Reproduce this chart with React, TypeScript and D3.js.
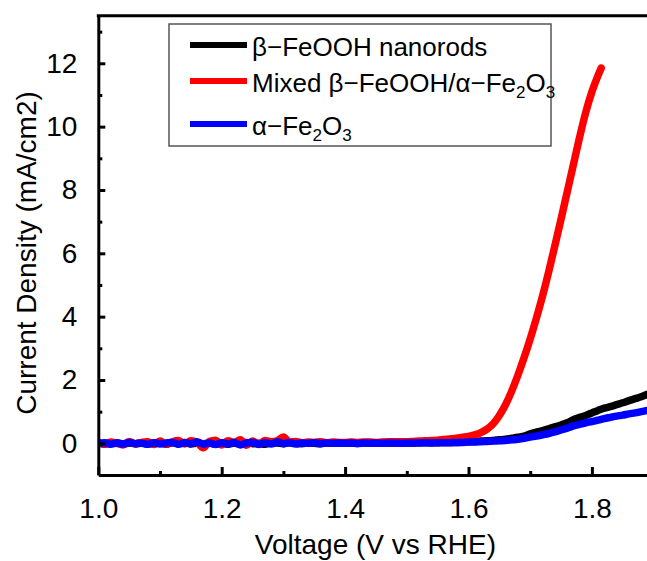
import { useEffect, useRef } from 'react';
import * as d3 from 'd3';

const [width, height] = [647, 561];
const margin = { left: 98.3, top: 15.8, right: 653.6, bottom: 475 };

const voltage = [
  1.00, 1.01, 1.02, 1.03, 1.04, 1.05, 1.06, 1.07, 1.08, 1.09,
  1.10, 1.11, 1.12, 1.13, 1.14, 1.15, 1.16, 1.17, 1.18, 1.19,
  1.20, 1.21, 1.22, 1.23, 1.24, 1.25, 1.26, 1.27, 1.28, 1.29,
  1.30, 1.31, 1.32, 1.33, 1.34, 1.35, 1.36, 1.37, 1.38, 1.39,
  1.40, 1.41, 1.42, 1.43, 1.44, 1.45, 1.46, 1.47, 1.48, 1.49,
  1.50, 1.51, 1.52, 1.53, 1.54, 1.55, 1.56, 1.57, 1.58, 1.59,
  1.60, 1.61, 1.62, 1.63, 1.64, 1.65, 1.66, 1.67, 1.68, 1.69,
  1.70, 1.71, 1.72, 1.73, 1.74, 1.75, 1.76, 1.77, 1.78, 1.79,
  1.80, 1.81, 1.82, 1.83, 1.84, 1.85, 1.86, 1.87, 1.88, 1.89,
];

// beta-FeOOH nanorods
const nanorods = [
  0.01, -0.02, 0.00, 0.02, -0.03, 0.01, -0.01, 0.02, -0.02, 0.00,
  0.01, -0.03, 0.02, -0.01, 0.03, -0.02, 0.00, -0.04, 0.01, -0.02,
  0.02, -0.03, 0.01, -0.02, 0.03, -0.01, 0.00, -0.03, 0.02, 0.01,
  -0.01, 0.02, 0.00, -0.01, 0.01, 0.00, -0.01, 0.01, 0.00, 0.01,
  0.00, 0.01, 0.00, 0.01, 0.01, 0.00, 0.01, 0.01, 0.01, 0.01,
  0.01, 0.01, 0.02, 0.02, 0.02, 0.02, 0.03, 0.03, 0.03, 0.04,
  0.05, 0.06, 0.07, 0.08, 0.09, 0.11, 0.13, 0.16, 0.19, 0.23,
  0.30, 0.35, 0.40, 0.46, 0.52, 0.58, 0.65, 0.75, 0.82, 0.88,
  0.96, 1.04, 1.11, 1.16, 1.22, 1.28, 1.35, 1.41, 1.47, 1.55,
];

// alpha-Fe2O3
const hematite = [
  0.00, 0.02, -0.03, 0.01, -0.02, 0.03, -0.01, 0.00, -0.03, 0.02,
  -0.02, 0.01, 0.03, -0.03, 0.02, -0.01, 0.04, -0.02, 0.01, -0.04,
  0.02, -0.02, 0.03, -0.05, 0.01, 0.03, -0.03, 0.02, -0.02, 0.04,
  -0.01, 0.02, -0.02, 0.01, 0.00, 0.02, -0.01, 0.01, 0.00, 0.01,
  0.00, 0.01, -0.01, 0.01, 0.00, 0.01, 0.00, 0.01, 0.01, 0.00,
  0.01, 0.01, 0.01, 0.02, 0.01, 0.02, 0.02, 0.02, 0.03, 0.03,
  0.04, 0.04, 0.05, 0.06, 0.07, 0.08, 0.09, 0.11, 0.13, 0.16,
  0.20, 0.23, 0.27, 0.31, 0.36, 0.42, 0.48, 0.55, 0.60, 0.65,
  0.69, 0.73, 0.78, 0.82, 0.86, 0.89, 0.93, 0.96, 1.00, 1.04,
];

// mixed phase, stops earlier
const mixedVoltage = [
  1.00, 1.01, 1.02, 1.03, 1.04, 1.05, 1.06, 1.07, 1.08, 1.09,
  1.10, 1.11, 1.12, 1.13, 1.14, 1.15, 1.16, 1.17, 1.18, 1.19,
  1.20, 1.21, 1.22, 1.23, 1.24, 1.25, 1.26, 1.27, 1.28, 1.29,
  1.30, 1.31, 1.32, 1.33, 1.34, 1.35, 1.36, 1.37, 1.38, 1.39,
  1.40, 1.41, 1.42, 1.43, 1.44, 1.45, 1.46, 1.47, 1.48, 1.49,
  1.50, 1.51, 1.52, 1.53, 1.54, 1.55, 1.56, 1.57, 1.58, 1.59,
  1.60, 1.61, 1.62, 1.63, 1.64, 1.65, 1.66, 1.67, 1.68, 1.69,
  1.70, 1.71, 1.72, 1.73, 1.74, 1.75, 1.76, 1.77, 1.78, 1.79,
  1.80, 1.81, 1.815,
];
const mixed = [
  0.02, -0.03, 0.04, 0.00, -0.05, 0.06, -0.02, 0.03, 0.05, -0.04,
  0.07, -0.03, 0.05, 0.09, -0.02, 0.08, 0.04, -0.14, 0.06, 0.10,
  -0.05, 0.08, 0.03, 0.11, -0.06, 0.07, -0.04, 0.09, 0.05, 0.08,
  0.20, 0.04, 0.06, 0.02, 0.04, 0.03, 0.05, 0.02, 0.04, 0.03,
  0.03, 0.04, 0.03, 0.04, 0.04, 0.03, 0.04, 0.05, 0.05, 0.05,
  0.05, 0.06, 0.07, 0.08, 0.09, 0.10, 0.12, 0.14, 0.16, 0.19,
  0.22, 0.27, 0.34, 0.45, 0.62, 0.88, 1.22, 1.65, 2.15, 2.70,
  3.30, 3.95, 4.65, 5.42, 6.24, 7.08, 7.94, 8.80, 9.66, 10.45,
  11.10, 11.62, 11.85,
];

const xMajor = [1.0, 1.2, 1.4, 1.6, 1.8];
const xMinor = [1.1, 1.3, 1.5, 1.7, 1.9];
const yMajor = [0, 2, 4, 6, 8, 10, 12];
const yMinor = [1, 3, 5, 7, 9, 11, 13];

const font = '"Liberation Sans", Arial, sans-serif';

function App() {
  const node = useRef<SVGSVGElement>(null);

  useEffect(() => {
    if (!node.current) return;
    const svg = d3.select(node.current);
    svg.selectAll('*').remove();

    const x = d3.scaleLinear().domain([1.0, 1.9]).range([margin.left, margin.right]);
    const y = d3.scaleLinear().domain([-1, 13.5]).range([margin.bottom, margin.top]);

    svg.append('clipPath').attr('id', 'plot-clip')
      .append('rect')
      .attr('x', margin.left).attr('y', margin.top)
      .attr('width', margin.right - margin.left).attr('height', margin.bottom - margin.top);

    const line = d3.line<[number, number]>()
      .x(d => x(d[0]))
      .y(d => y(d[1]))
      .curve(d3.curveMonotoneX);

    const series = [
      { v: voltage, i: nanorods, color: '#000000' },
      { v: mixedVoltage, i: mixed, color: '#ff0000' },
      { v: voltage, i: hematite, color: '#0000ff' },
    ];

    const plot = svg.append('g').attr('clip-path', 'url(#plot-clip)');
    series.forEach(s => {
      plot.append('path')
        .datum(s.v.map((v, k) => [v, s.i[k]] as [number, number]))
        .attr('fill', 'none')
        .attr('stroke', s.color)
        .attr('stroke-width', 7.5)
        .attr('stroke-linejoin', 'round')
        .attr('stroke-linecap', 'round')
        .attr('d', line);
    });

    // axes, ticks point inward
    const xAxisG = svg.append('g')
      .attr('transform', `translate(0,${margin.bottom})`)
      .call(d3.axisBottom(x).tickValues(xMajor).tickFormat(d3.format('.1f'))
        .tickSizeInner(-8).tickSizeOuter(0).tickPadding(23));
    svg.append('g')
      .attr('transform', `translate(0,${margin.bottom})`)
      .call(d3.axisBottom(x).tickValues(xMinor).tickFormat(() => '')
        .tickSizeInner(-4).tickSizeOuter(0))
      .select('.domain').remove();

    const yAxisG = svg.append('g')
      .attr('transform', `translate(${margin.left},0)`)
      .call(d3.axisLeft(y).tickValues(yMajor).tickFormat(d3.format('d'))
        .tickSizeInner(-7).tickSizeOuter(0).tickPadding(21));
    svg.append('g')
      .attr('transform', `translate(${margin.left},0)`)
      .call(d3.axisLeft(y).tickValues(yMinor).tickFormat(() => '')
        .tickSizeInner(-4).tickSizeOuter(0))
      .select('.domain').remove();

    svg.selectAll('.domain, .tick line').attr('stroke', '#000').attr('stroke-width', 3);
    [xAxisG, yAxisG].forEach(g => g.selectAll('text')
      .attr('font-family', font).attr('font-size', 28).attr('fill', '#000'));

    // frame top / right
    svg.append('line')
      .attr('x1', margin.left - 1.5).attr('x2', margin.right)
      .attr('y1', margin.top).attr('y2', margin.top)
      .attr('stroke', '#000').attr('stroke-width', 3);
    svg.append('line')
      .attr('x1', margin.right).attr('x2', margin.right)
      .attr('y1', margin.top).attr('y2', margin.bottom)
      .attr('stroke', '#000').attr('stroke-width', 3);

    svg.append('text')
      .attr('x', (margin.left + 653.6) / 2 - 0.5).attr('y', 554)
      .attr('text-anchor', 'middle')
      .attr('font-family', font).attr('font-size', 28)
      .text('Voltage (V vs RHE)');

    svg.append('text')
      .attr('transform', 'translate(36,253) rotate(-90)')
      .attr('text-anchor', 'middle')
      .attr('font-family', font).attr('font-size', 28)
      .text('Current Density (mA/cm2)');

    // legend
    const legend = svg.append('g');
    legend.append('rect')
      .attr('x', 169).attr('y', 24).attr('width', 382).attr('height', 122)
      .attr('fill', '#fff').attr('stroke', '#555').attr('stroke-width', 1.5);

    const entries = [
      { color: '#000000', cy: 45, parts: [['β−FeOOH nanorods', 0]] },
      { color: '#ff0000', cy: 81, parts: [['Mixed β−FeOOH/α−Fe', 0], ['2', 1], ['O', 0], ['3', 1]] },
      { color: '#0000ff', cy: 124, parts: [['α−Fe', 0], ['2', 1], ['O', 0], ['3', 1]] },
    ];
    entries.forEach(e => {
      legend.append('line')
        .attr('x1', 190).attr('x2', 247)
        .attr('y1', e.cy).attr('y2', e.cy)
        .attr('stroke', e.color).attr('stroke-width', 6);
      const t = legend.append('text')
        .attr('x', 252).attr('y', e.cy + 11)
        .attr('font-family', font).attr('font-size', 26);
      let shifted = false;
      e.parts.forEach(([str, sub]) => {
        const ts = t.append('tspan').text(str as string);
        if (sub && !shifted) { ts.attr('dy', 6).attr('font-size', 17); shifted = true; }
        else if (!sub && shifted) { ts.attr('dy', -6); shifted = false; }
        else if (sub) ts.attr('font-size', 17);
      });
    });
  }, [node]);

  return (
    <svg ref={node} width={width} height={height}
      style={{ position: 'absolute', left: 0, top: 0, background: '#fff' }} />
  );
}

export default App;
